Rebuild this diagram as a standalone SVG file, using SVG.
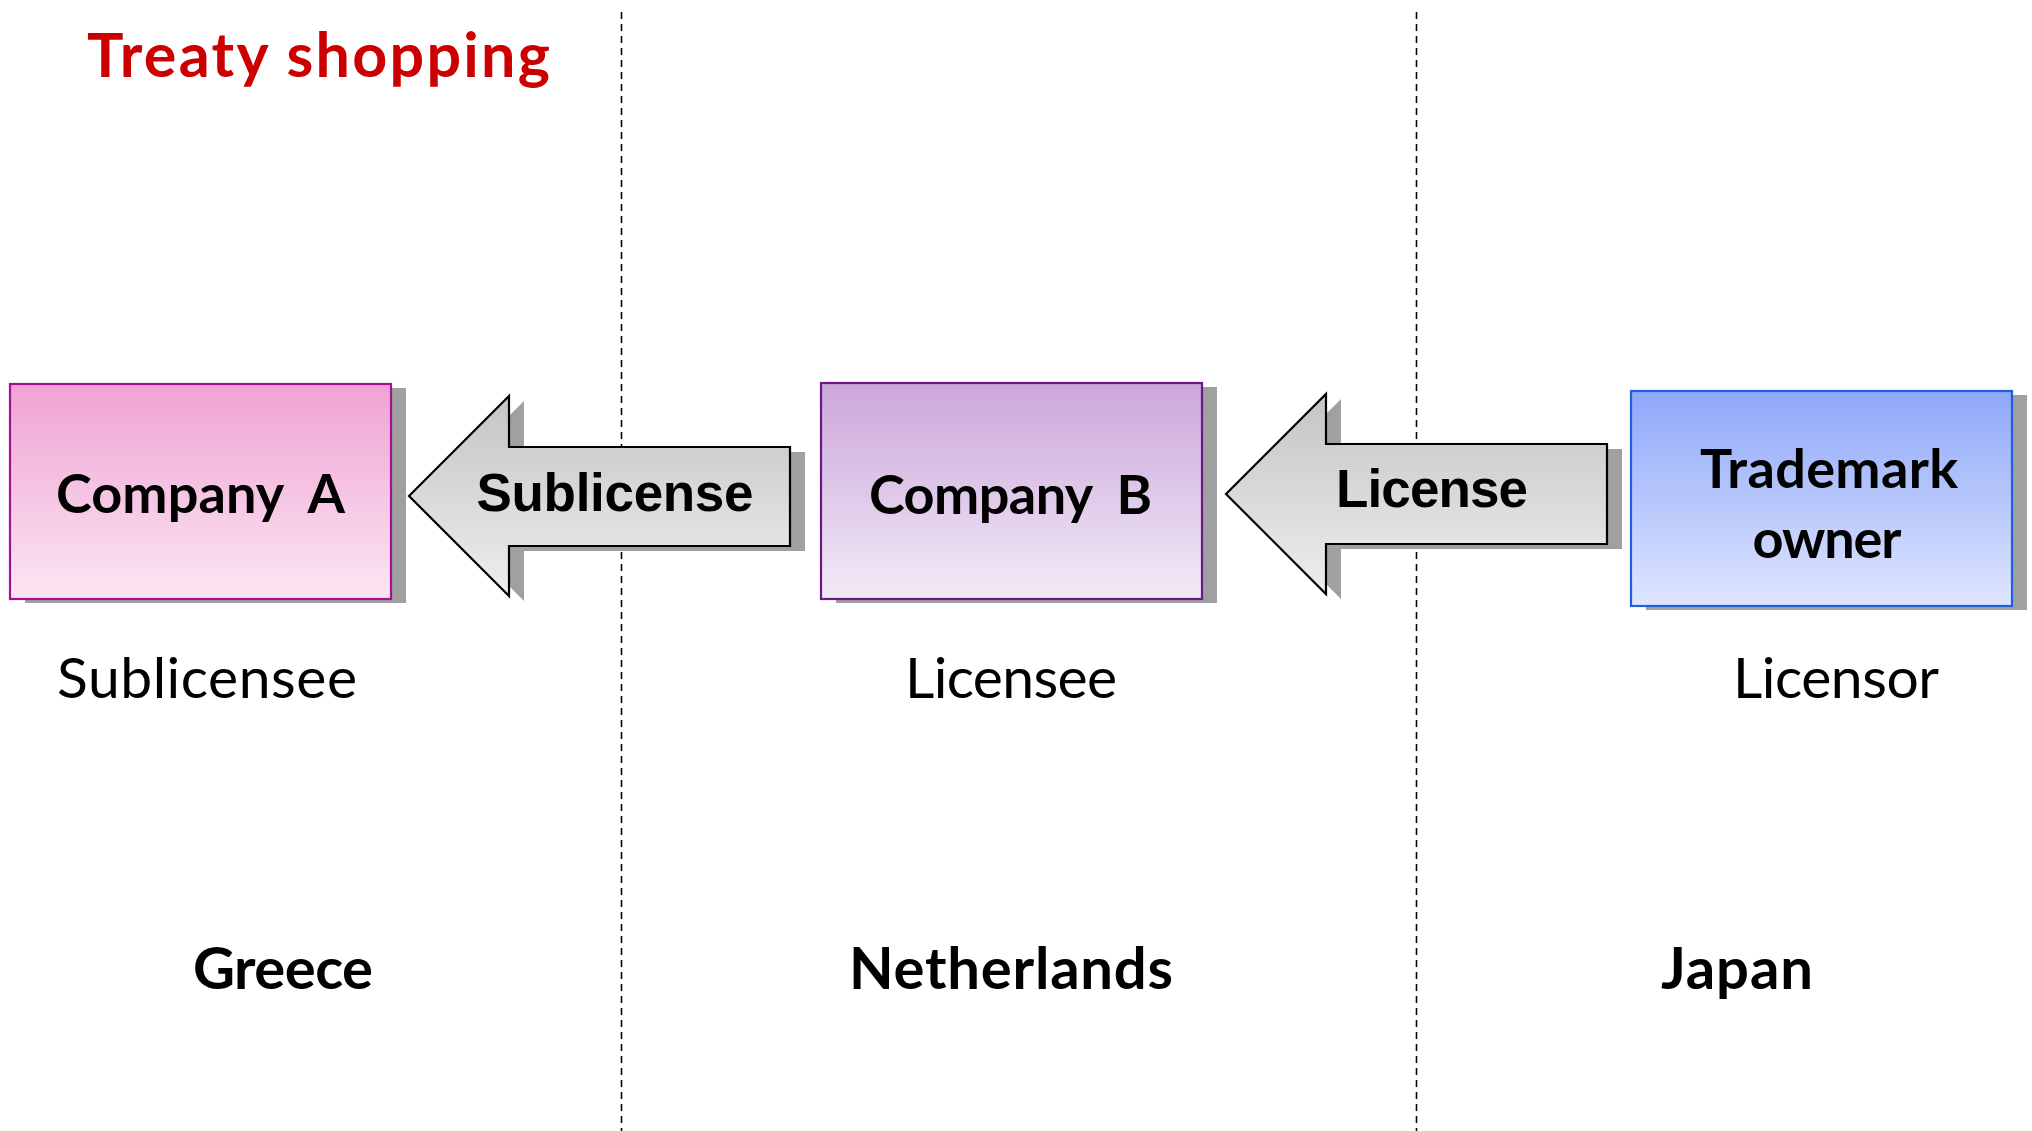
<svg xmlns="http://www.w3.org/2000/svg" width="2032" height="1131" viewBox="0 0 2032 1131">
<style>
.bg{fill:#ffffff}
.divider{stroke:#000;stroke-width:1.6;stroke-dasharray:7 5;fill:none}
.shadow{fill:#a0a0a0}
.box{stroke-width:2.2}
.arrow{fill:url(#gGray);stroke:#000;stroke-width:2.2;stroke-linejoin:miter}
.boxtext{font-family:Lato,"Open Sans",sans-serif;font-weight:bold;font-size:54px;fill:#000;text-anchor:middle}
.arrowtext{font-family:"Liberation Sans",Arial,sans-serif;font-weight:bold;font-size:53px;fill:#000;text-anchor:middle}
.role{font-family:Lato,"Open Sans",sans-serif;font-size:57px;fill:#000;text-anchor:middle}
.country{font-family:Lato,"Open Sans",sans-serif;font-weight:bold;font-size:58px;fill:#000;text-anchor:middle}
.title{font-family:Lato,"Open Sans",sans-serif;font-weight:bold;font-size:61px;fill:#cc0000}
</style>
<defs>
<linearGradient id="gPink" x1="0" y1="0" x2="0" y2="1"><stop offset="0" stop-color="#efa3d3"/><stop offset="1" stop-color="#fbe6f3"/></linearGradient>
<linearGradient id="gPurple" x1="0" y1="0" x2="0" y2="1"><stop offset="0" stop-color="#cba6da"/><stop offset="1" stop-color="#f2eaf7"/></linearGradient>
<linearGradient id="gBlue" x1="0" y1="0" x2="0" y2="1"><stop offset="0" stop-color="#8ea7fa"/><stop offset="1" stop-color="#dfe6fe"/></linearGradient>
<linearGradient id="gGray" x1="0" y1="0" x2="0" y2="1"><stop offset="0" stop-color="#c4c4c4"/><stop offset="1" stop-color="#eeeeee"/></linearGradient>
</defs>
<rect class="bg" x="0" y="0" width="2032" height="1131"/>

<g id="dividers">
<line class="divider" x1="621.5" y1="12" x2="621.5" y2="1131"/>
<line class="divider" x1="1416.5" y1="12" x2="1416.5" y2="1131"/>
</g>

<text id="title" class="title" x="87" y="77" textLength="463">Treaty shopping</text>

<g id="connectors">
<g id="sublicense-arrow">
<polygon class="shadow" points="424,501 524,401 524,452 805,452 805,551 524,551 524,601"/>
<polygon class="arrow" points="409,496 509,396 509,447 790,447 790,546 509,546 509,596"/>
<text class="arrowtext" x="615" y="511" textLength="277">Sublicense</text>
</g>
<g id="license-arrow">
<polygon class="shadow" points="1241,499 1341,399 1341,449 1622,449 1622,549 1341,549 1341,599"/>
<polygon class="arrow" points="1226,494 1326,394 1326,444 1607,444 1607,544 1326,544 1326,594"/>
<text class="arrowtext" x="1432" y="507" textLength="192">License</text>
</g>
</g>

<g id="company-a">
<rect class="shadow" x="25" y="388" width="381" height="215"/>
<rect class="box" x="10" y="384" width="381" height="215" fill="url(#gPink)" stroke="#a3128f"/>
<text class="boxtext" x="200.5" y="513" textLength="289" xml:space="preserve">Company  A</text>
</g>

<g id="company-b">
<rect class="shadow" x="836" y="387" width="381" height="216"/>
<rect class="box" x="821" y="383" width="381" height="216" fill="url(#gPurple)" stroke="#6c1687"/>
<text class="boxtext" x="1010.5" y="514" textLength="283" xml:space="preserve">Company  B</text>
</g>

<g id="trademark-owner">
<rect class="shadow" x="1646" y="395" width="381" height="215"/>
<rect class="box" x="1631" y="391" width="381" height="215" fill="url(#gBlue)" stroke="#1f5fe0"/>
<text class="boxtext" x="1829" y="488" textLength="258">Trademark</text>
<text class="boxtext" x="1827" y="558" textLength="149">owner</text>
</g>

<g id="roles">
<text class="role" x="207" y="698" textLength="300">Sublicensee</text>
<text class="role" x="1011" y="698" textLength="212">Licensee</text>
<text class="role" x="1836" y="698" textLength="206">Licensor</text>
</g>

<g id="countries">
<text class="country" x="283" y="989" textLength="180">Greece</text>
<text class="country" x="1011" y="989" textLength="324">Netherlands</text>
<text class="country" x="1737" y="989" textLength="152">Japan</text>
</g>
</svg>
